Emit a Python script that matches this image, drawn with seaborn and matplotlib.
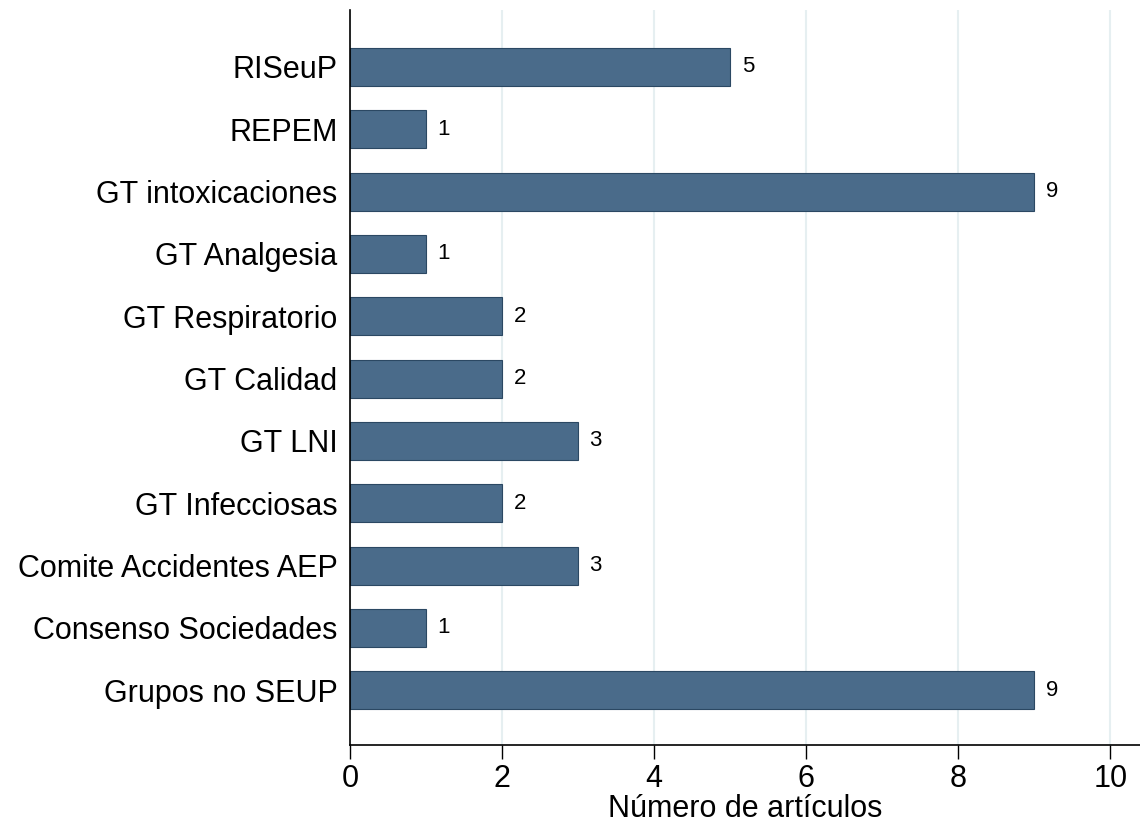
import matplotlib
matplotlib.use("Agg")
import matplotlib.pyplot as plt
import seaborn as sns
import pandas as pd

grupos = ["RISeuP", "REPEM", "GT intoxicaciones", "GT Analgesia", "GT Respiratorio",
          "GT Calidad", "GT LNI", "GT Infecciosas", "Comite Accidentes AEP",
          "Consenso Sociedades", "Grupos no SEUP"]
articulos = [5, 1, 9, 1, 2, 2, 3, 2, 3, 1, 9]

df = pd.DataFrame({"grupo": grupos, "n": articulos})

sns.set_style("white")
plt.rcParams['font.family'] = ['Liberation Sans', 'DejaVu Sans']
plt.rcParams['text.color'] = 'black'

fig = plt.figure(figsize=(11.4, 8.26), dpi=100)
ax = fig.add_axes([0.307, 0.098, 0.693, 0.890])

sns.barplot(data=df, x="n", y="grupo", orient="h", color="#4a6b8a",
            edgecolor="#2b4863", linewidth=0.8, width=0.61, saturation=1, ax=ax)

# etiquetas de valor al final de cada barra
for i, v in enumerate(articulos):
    ax.text(v + 0.15, i, str(v), va="center", ha="left", fontsize=16, color="black")

ax.set_xlim(0, 10.39)
ax.set_ylim(10.88, -0.915)
ax.set_xticks([0, 2, 4, 6, 8, 10])
ax.xaxis.grid(True, color="#e6eff1", linewidth=1.5)
ax.set_axisbelow(True)
ax.tick_params(axis="x", which="major", length=10, width=1, direction="out",
               labelsize=22, bottom=True, colors="black")
ax.tick_params(axis="y", length=0, labelsize=22, pad=9, labelcolor="black")
ax.set_xlabel("Número de artículos", fontsize=22, labelpad=0, color="black")
ax.set_ylabel("")
for s in ["top", "right"]:
    ax.spines[s].set_visible(False)
for s in ["left", "bottom"]:
    ax.spines[s].set_color("black")
    ax.spines[s].set_linewidth(1.2)

fig.savefig("out.png", dpi=100)
